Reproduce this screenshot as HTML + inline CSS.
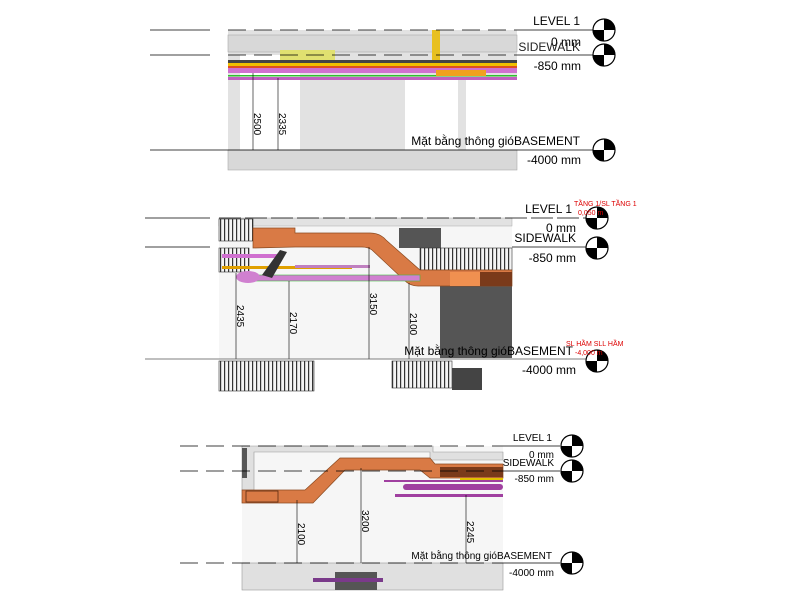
<!DOCTYPE html>
<html><head><meta charset="utf-8"><style>
body{margin:0;background:#fff;width:809px;height:609px;overflow:hidden}
svg text{font-family:"Liberation Sans","Noto Sans CJK SC",sans-serif}
</style></head><body>
<svg width="809" height="609" viewBox="0 0 809 609" xmlns="http://www.w3.org/2000/svg">
<defs>
<g id="mk"><circle r="11" fill="#fff" stroke="#000" stroke-width="1.2"/><path d="M0,-11A11,11 0 0 1 11,0L0,0Z" fill="#000"/><path d="M0,11A11,11 0 0 1 -11,0L0,0Z" fill="#000"/></g>
<pattern id="gr" width="4" height="30" patternUnits="userSpaceOnUse"><rect width="4" height="30" fill="#f4f4f4"/><rect width="1.2" height="30" fill="#333"/></pattern>
</defs>

<!-- PANEL 1 -->
<rect x="228" y="30" width="289" height="140" fill="#e2e2e2"/>
<rect x="228" y="35" width="289" height="17" fill="#d8d8d8" stroke="#aaa" stroke-width=".6"/>
<rect x="240" y="55" width="60" height="95" fill="#fff"/>
<rect x="405" y="80" width="53" height="70" fill="#fff"/>
<rect x="466" y="80" width="51" height="70" fill="#fff"/>
<rect x="228" y="150" width="289" height="20" fill="#d8d8d8" stroke="#aaa" stroke-width=".6"/>
<rect x="280" y="50" width="55" height="10" fill="#e0e070"/>
<rect x="228" y="60" width="289" height="4" fill="#444"/>
<rect x="228" y="63" width="289" height="3" fill="#f0c000"/>
<rect x="228" y="66" width="289" height="2" fill="#e05020"/>
<rect x="228" y="68" width="289" height="5" fill="#d070d0"/>
<rect x="228" y="77" width="289" height="3" fill="#c060c0"/>
<rect x="228" y="75" width="289" height="1.5" fill="#30c030"/>
<rect x="432" y="30" width="8" height="30" fill="#e8c020"/>
<rect x="436" y="70" width="50" height="6" fill="#f0a020"/>
<g stroke="#000" stroke-width=".6">
<line x1="253" y1="73" x2="253" y2="150"/><line x1="278" y1="78" x2="278" y2="150"/>
</g>
<text transform="translate(254,113) rotate(90)" font-family="Liberation Serif" font-size="10">2500</text>
<text transform="translate(279,113) rotate(90)" font-family="Liberation Serif" font-size="10">2335</text>
<g stroke="#000" stroke-width=".8">
<line x1="150" y1="30" x2="210" y2="30"/><line x1="228" y1="30" x2="517" y2="30" stroke-dasharray="18,8"/><line x1="517" y1="30" x2="594" y2="30"/>
<line x1="150" y1="55" x2="210" y2="55"/><line x1="228" y1="55" x2="517" y2="55" stroke-dasharray="18,8"/><line x1="517" y1="55" x2="594" y2="55"/>
<line x1="150" y1="150" x2="594" y2="150"/>
</g>
<use href="#mk" x="604" y="30"/><use href="#mk" x="604" y="55"/><use href="#mk" x="604" y="150"/>
<g font-size="12" text-anchor="end">
<text x="580" y="25">LEVEL 1</text><text x="581" y="46">0 mm</text>
<text x="580" y="51" fill="#222">SIDEWALK</text><text x="581" y="70">-850 mm</text>
<text x="580" y="145">Mặt bằng thông gióBASEMENT</text><text x="581" y="164">-4000 mm</text>
</g>

<!-- PANEL 2 -->
<rect x="219" y="218" width="293" height="141" fill="#f6f6f6"/>
<rect x="219" y="218" width="293" height="8" fill="#e2e2e2" stroke="#aaa" stroke-width=".5"/>
<rect x="399" y="228" width="42" height="20" fill="#555"/>
<rect x="440" y="272" width="72" height="86" fill="#555"/>
<rect x="219" y="219" width="34" height="22" fill="url(#gr)" stroke="#333" stroke-width=".6"/>
<rect x="219" y="248" width="30" height="24" fill="url(#gr)" stroke="#333" stroke-width=".6"/>
<rect x="420" y="248" width="92" height="22" fill="url(#gr)" stroke="#333" stroke-width=".6"/>
<path d="M253,228 L295,228 L295,233 L370,233 Q380,233 386,240 L420,270 L512,270 L512,286 L418,286 Q410,286 404,280 L372,250 Q368,247 362,247 L295,247 L253,248 Z" fill="#d97a45" stroke="#8a4a20" stroke-width=".7"/>
<rect x="450" y="272" width="30" height="14" fill="#f09050"/>
<rect x="480" y="272" width="32" height="14" fill="#7a3a1a"/>
<rect x="222" y="254" width="60" height="4" fill="#d070d0"/>
<rect x="222" y="266" width="130" height="3" fill="#e0a000"/>
<rect x="295" y="265" width="75" height="3" fill="#c080c0"/>
<rect x="240" y="275" width="180" height="6" fill="#d080d0" stroke="#40c040" stroke-width=".6"/>
<ellipse cx="248" cy="277" rx="12" ry="6" fill="#d080d0"/>
<path d="M262,275 L280,250 L287,252 L272,278Z" fill="#333"/>
<g stroke="#000" stroke-width=".6">
<line x1="236" y1="273" x2="236" y2="359"/><line x1="289" y1="281" x2="289" y2="359"/>
<line x1="369" y1="247" x2="369" y2="359"/><line x1="409" y1="283" x2="409" y2="359"/>
</g>
<text transform="translate(237,305) rotate(90)" font-family="Liberation Serif" font-size="10">2435</text>
<text transform="translate(290,312) rotate(90)" font-family="Liberation Serif" font-size="10">2170</text>
<text transform="translate(370,293) rotate(90)" font-family="Liberation Serif" font-size="10">3150</text>
<text transform="translate(410,313) rotate(90)" font-family="Liberation Serif" font-size="10">2100</text>
<rect x="219" y="361" width="95" height="30" fill="url(#gr)" stroke="#333" stroke-width=".6"/>
<rect x="392" y="361" width="60" height="27" fill="url(#gr)" stroke="#333" stroke-width=".6"/>
<rect x="452" y="368" width="30" height="22" fill="#444"/>
<g stroke="#000" stroke-width=".8">
<line x1="145" y1="218" x2="210" y2="218"/><line x1="219" y1="218" x2="586" y2="218" stroke-dasharray="22,4"/>
<line x1="145" y1="247" x2="210" y2="247"/><line x1="512" y1="247" x2="586" y2="247"/>
<line x1="145" y1="359" x2="586" y2="359" stroke="#555"/>
</g>
<use href="#mk" x="597" y="218"/><use href="#mk" x="597" y="248"/><use href="#mk" x="597" y="361"/>
<g font-size="12" text-anchor="end">
<text x="572" y="213">LEVEL 1</text><text x="576" y="232">0 mm</text>
<text x="576" y="242">SIDEWALK</text><text x="576" y="262">-850 mm</text>
<text x="573" y="355">Mặt bằng thông gióBASEMENT</text><text x="576" y="374">-4000 mm</text>
</g>
<g font-size="7" fill="#d00">
<text x="574" y="206">TẦNG 1/SL TẦNG 1</text><text x="578" y="215">0,050 m</text>
<text x="566" y="346">SL HẦM SLL HẦM</text><text x="575" y="355">-4,000 m</text>
</g>

<!-- PANEL 3 -->
<rect x="242" y="446" width="261" height="144" fill="#f6f6f6"/>
<path d="M242,446 L433,446 L433,452 L503,452 L503,460 L430,460 L430,452 L254,452 L254,490 L242,490 Z" fill="#e0e0e0" stroke="#999" stroke-width=".6"/>
<rect x="242" y="448" width="5" height="30" fill="#555"/>
<rect x="242" y="563" width="261" height="27" fill="#e0e0e0" stroke="#999" stroke-width=".6"/>
<rect x="335" y="572" width="42" height="18" fill="#555"/>
<path d="M242,490 L305,490 L340,458 L430,458 L435,464 L503,464 L503,478 L430,478 L420,470 L345,470 L313,503 L242,503 Z" fill="#d97a45" stroke="#8a4a20" stroke-width=".7"/>
<rect x="246" y="491" width="32" height="11" fill="none" stroke="#5a2a10" stroke-width=".8"/>
<rect x="440" y="467" width="63" height="10" fill="#7a3a1a"/>
<rect x="460" y="478" width="43" height="3" fill="#e0c000"/>
<rect x="384" y="480" width="119" height="2" fill="#a040a0"/>
<rect x="403" y="484" width="100" height="6" rx="3" fill="#a040a0"/>
<rect x="395" y="494" width="108" height="3" fill="#a040a0"/>
<rect x="313" y="578" width="70" height="4" fill="#7a3a8a"/>
<g stroke="#000" stroke-width=".6">
<line x1="297" y1="500" x2="297" y2="563"/><line x1="361" y1="468" x2="361" y2="563"/><line x1="466" y1="495" x2="466" y2="563"/>
</g>
<text transform="translate(298,523) rotate(90)" font-family="Liberation Serif" font-size="10">2100</text>
<text transform="translate(362,510) rotate(90)" font-family="Liberation Serif" font-size="10">3200</text>
<text transform="translate(467,521) rotate(90)" font-family="Liberation Serif" font-size="10">2245</text>
<g stroke="#000" stroke-width=".8">
<line x1="180" y1="446" x2="503" y2="446" stroke-dasharray="18,8"/><line x1="503" y1="446" x2="560" y2="446"/>
<line x1="180" y1="471" x2="503" y2="471" stroke-dasharray="18,8"/><line x1="503" y1="471" x2="560" y2="471"/>
<line x1="180" y1="563" x2="503" y2="563" stroke-dasharray="18,8"/><line x1="503" y1="563" x2="560" y2="563"/>
</g>
<use href="#mk" x="572" y="446"/><use href="#mk" x="572" y="471"/><use href="#mk" x="572" y="563"/>
<g font-size="10" text-anchor="end">
<text x="552" y="441">LEVEL 1</text><text x="554" y="458">0 mm</text>
<text x="554" y="466">SIDEWALK</text><text x="554" y="482">-850 mm</text>
<text x="552" y="559">Mặt bằng thông gióBASEMENT</text><text x="554" y="576">-4000 mm</text>
</g>
</svg>
</body></html>
